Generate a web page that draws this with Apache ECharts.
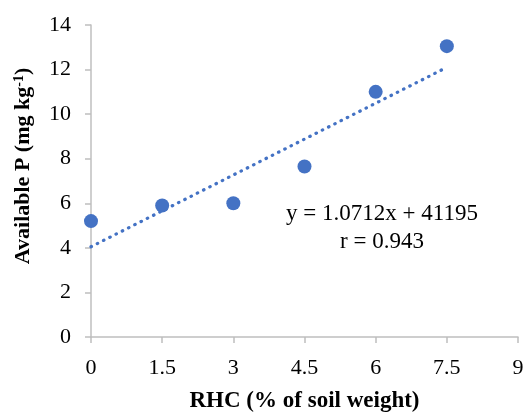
<!DOCTYPE html>
<html>
<head>
<meta charset="utf-8">
<script src="https://cdn.jsdelivr.net/npm/echarts@6/dist/echarts.min.js"></script>
<style>
  html, body { margin: 0; padding: 0; background: #fff; }
  #chart { width: 526px; height: 412px; }
</style>
</head>
<body>
<div id="chart"></div>
<script>
// RHC dose vs available P
const rhc = [0, 1.5, 3, 4.5, 6, 7.5]
const availP = [5.2, 5.9, 6.0, 7.65, 11.0, 13.05]
// linear trendline end points
const trendX = [0, 7.5]
const trendY = [4.05, 12.1]
const xTicks = [0, 1.5, 3, 4.5, 6, 7.5, 9]
const yTicks = [0, 2, 4, 6, 8, 10, 12, 14]
const eqText = 'y = 1.0712x + 41195'
const rText = 'r = 0.943'

const font = "'Liberation Serif', 'Times New Roman', serif"
const blue = '#4472C4'
const axisGray = '#BFBFBF'

const chart = echarts.init(document.getElementById('chart'))
chart.setOption({
  animation: false,
  grid: { left: 91, right: 8, top: 25, bottom: 75, outerBoundsMode: 'none', containLabel: false },
  xAxis: {
    type: 'value',
    min: xTicks[0],
    max: xTicks[xTicks.length - 1],
    interval: 1.5,
    name: 'RHC (% of soil weight)',
    nameLocation: 'middle',
    nameGap: 53,
    nameTextStyle: { fontFamily: font, fontSize: 23, fontWeight: 'bold', color: '#000' },
    axisLine: { show: true, lineStyle: { color: axisGray, width: 1.5 } },
    axisTick: { show: true, length: 6, lineStyle: { color: axisGray, width: 1.5 } },
    axisLabel: { margin: 20, fontFamily: font, fontSize: 22, color: '#000' },
    splitLine: { show: false }
  },
  yAxis: {
    type: 'value',
    min: yTicks[0],
    max: yTicks[yTicks.length - 1],
    interval: 2,
    name: '{t|Available P (mg kg}{s|-1}{t|)}',
    nameLocation: 'middle',
    nameGap: 56,
    nameTextStyle: {
      padding: [0, 0, 0, 30],
      rich: {
        t: { fontFamily: font, fontSize: 22, fontWeight: 'bold', color: '#000' },
        s: { fontFamily: font, fontSize: 14, fontWeight: 'bold', color: '#000', verticalAlign: 'top', padding: [0, 0, 9, 0] }
      }
    },
    axisLine: { show: true, lineStyle: { color: axisGray, width: 1.5 } },
    axisTick: { show: true, length: 6, lineStyle: { color: axisGray, width: 1.5 } },
    axisLabel: { margin: 20, fontFamily: font, fontSize: 22, color: '#000' },
    splitLine: { show: false }
  },
  graphic: [
    {
      type: 'text',
      x: 382,
      y: 214,
      style: { text: eqText, align: 'center', verticalAlign: 'middle', font: '23px ' + font, fill: '#000' }
    },
    {
      type: 'text',
      x: 382,
      y: 242,
      style: { text: rText, align: 'center', verticalAlign: 'middle', font: '23px ' + font, fill: '#000' }
    }
  ],
  series: [
    {
      type: 'line',
      data: trendX.map((x, i) => [x, trendY[i]]),
      symbol: 'none',
      lineStyle: { color: blue, width: 3.2, type: [0.5, 6.5], cap: 'round' },
      z: 1
    },
    {
      type: 'scatter',
      data: rhc.map((x, i) => [x, availP[i]]),
      symbolSize: 14,
      itemStyle: { color: blue, opacity: 1 },
      z: 2
    }
  ]
})
</script>
</body>
</html>
